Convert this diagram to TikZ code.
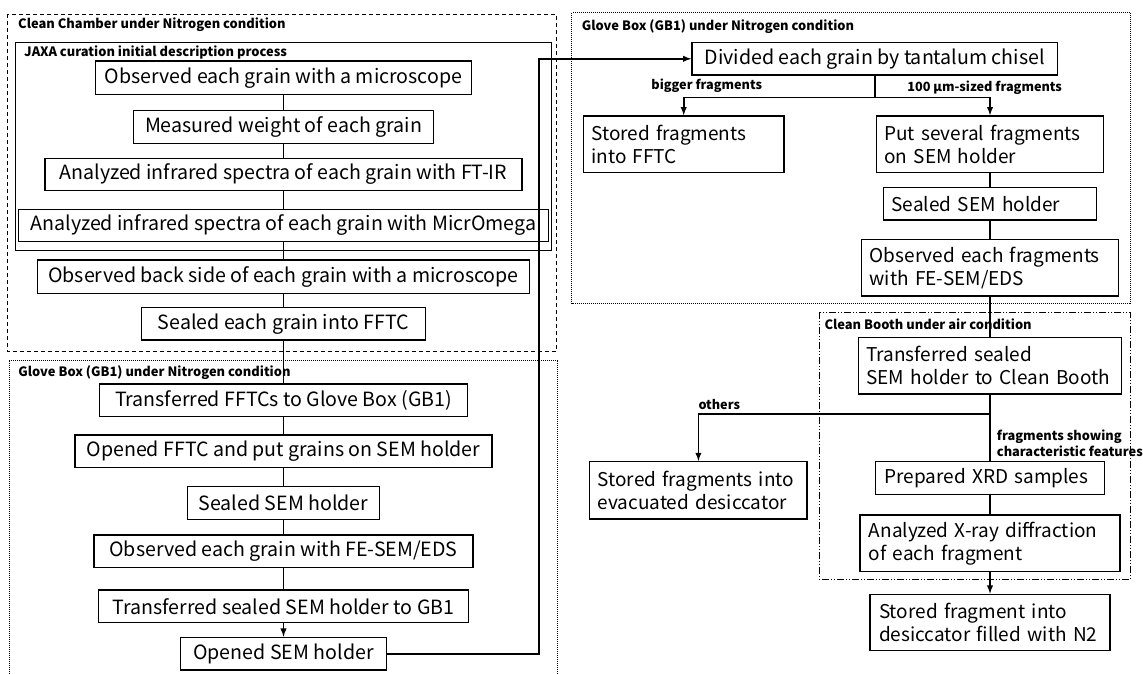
\documentclass[tikz,border=0pt]{standalone}
\usepackage{fontspec}
\setmainfont{Noto Sans CJK JP}
\tikzset{
  stepbox/.style={draw, line width=1.4pt, inner sep=0pt, font=\fontsize{19.6}{23.5}\selectfont},
  sz/.style 2 args={minimum width=#1pt, minimum height=#2pt},
  leftbox/.style={stepbox, align=left, text width=#1pt, font=\fontsize{19}{23}\selectfont},
  zonetitle/.style={anchor=west, inner sep=0pt, font=\bfseries\fontsize{12.9}{14}\selectfont},
  branchlabel/.style={inner sep=0pt, font=\bfseries\fontsize{12.7}{16}\selectfont},
  link/.style={line width=1.8pt},
  arr/.style={line width=1.8pt, -latex},
}
\begin{document}
\begin{tikzpicture}[x=1pt, y=-1pt]
                \useasboundingbox (0,0) rectangle (1143,673);
                % zones
                \draw [line width=0.9pt, dash pattern=on 4pt off 3pt] (7.3,14) rectangle (556,351.7);
                \draw [line width=0.9pt] (15,42.7) rectangle (551,250);
                \draw [line width=0.8pt, dash pattern=on 1pt off 1pt] (9,360.7) rectangle (557.3,690);
                \draw [line width=0.8pt, dash pattern=on 1pt off 1pt] (571.7,12.7) rectangle (1130,303.3);
                \draw [line width=0.9pt, dash pattern=on 7pt off 2pt on 1pt off 2pt on 1pt off 2pt] (819.3,312) rectangle (1130.5,579.3);
                \node [zonetitle] (tChamber) at (18,25) {Clean Chamber under Nitrogen condition};
                \node [zonetitle] (tJaxa) at (24,52) {JAXA curation initial description process};
                \node [zonetitle] (tGloveL) at (18.2,372.7) {Glove Box (GB1) under Nitrogen condition};
                \node [zonetitle] (tGloveR) at (581.7,26.7) {Glove Box (GB1) under Nitrogen condition};
                \node [zonetitle] (tBooth) at (824.3,324) {Clean Booth under air condition};
                % JAXA curation and clean chamber
                \node [stepbox, sz={376.3}{33.3}] (obsMicro) at (283.5,77.7) {Observed each grain with a microscope};
                \node [stepbox, sz={300.5}{32.6}] (weigh) at (283.5,127) {Measured weight of each grain};
                \node [stepbox, sz={476.8}{32.4}] (ftir) at (283.5,174.5) {Analyzed infrared spectra of each grain with FT-IR};
                \node [stepbox, sz={529.8}{32.4}] (micrOmega) at (283.5,225.5) {Analyzed infrared spectra of each grain with MicrOmega};
                \node [stepbox, sz={491.6}{33.3}] (backSide) at (283.5,276.7) {Observed back side of each grain with a microscope};
                \node [stepbox, sz={284.3}{32.7}] (sealFFTC) at (283.5,323.7) {Sealed each grain into FFTC};
                % glove box, left
                \node [stepbox, sz={368.3}{32.7}] (transFFTC) at (283.5,400.3) {Transferred FFTCs to Glove Box (GB1)};
                \node [stepbox, sz={417.2}{32.7}] (openFFTC) at (283.5,451.3) {Opened FFTC and put grains on SEM holder};
                \node [stepbox, sz={191.5}{32.6}] (sealSEM) at (283.5,503) {Sealed SEM holder};
                \node [stepbox, sz={379.2}{32.7}] (obsGrain) at (283.5,551.3) {Observed each grain with FE-SEM/EDS};
                \node [stepbox, sz={369.8}{32.7}] (transGB1) at (283.5,606.3) {Transferred sealed SEM holder to GB1};
                \node [stepbox, sz={205.5}{32.7}] (openSEM) at (283.5,653.7) {Opened SEM holder};
                % glove box, right
                \node [stepbox, sz={365.4}{32.3}] (divide) at (874.7,58.8) {Divided each grain by tantalum chisel};
                \node [leftbox=184.6, sz={200.6}{56.7}] (storeFFTC) at (683.7,144.3) {Stored fragments\\into FFTC};
                \node [leftbox=211.5, sz={227.5}{56.7}] (putSEM) at (990,144.3) {Put several fragments\\on SEM holder};
                \node [leftbox=197, sz={213}{32.3}] (sealSEMr) at (990,203.8) {Sealed SEM holder};
                \node [leftbox=240.5, sz={256.5}{56.7}] (obsFrag) at (990,267.7) {Observed each fragments\\with FE-SEM/EDS};
                % clean booth
                \node [leftbox=247.4, sz={263.4}{56.7}] (transBooth) at (990,365.7) {Transferred sealed\\SEM holder to Clean Booth};
                \node [leftbox=201.5, sz={217.5}{57.3}] (storeDesic) at (698.4,490.3) {Stored fragments into\\evacuated desiccator};
                \node [leftbox=211, sz={229}{32.6}] (prepXRD) at (990,478) {Prepared XRD samples};
                \node [leftbox=242.2, sz={260.2}{56.7}] (xrd) at (990,543.3) {Analyzed X-ray diffraction\\of each fragment};
                \node [leftbox=221.7, sz={239.7}{56.4}] (storeN2) at (990,622.5) {Stored fragment into\\desiccator filled with N2};
                % connectors, left column
                \draw [link] (obsMicro) -- (weigh);
                \draw [link] (weigh) -- (ftir);
                \draw [link] (ftir) -- (micrOmega);
                \draw [link] (micrOmega) -- (backSide);
                \draw [link] (backSide) -- (sealFFTC);
                \draw [link] (sealFFTC) -- (transFFTC);
                \draw [link] (transFFTC) -- (openFFTC);
                \draw [link] (openFFTC) -- (sealSEM);
                \draw [link] (sealSEM) -- (obsGrain);
                \draw [link] (obsGrain) -- (transGB1);
                \draw [arr] (transGB1) -- (openSEM);
                \coordinate (turn) at (539.3,0);
                \draw [arr] (openSEM.east) -| (turn |- divide.west) -- (divide.west);
                % connectors, right column
                \draw [link] (divide.south) -- ++(0,21.9) coordinate (splitA);
                \draw [arr] (splitA) -| (storeFFTC.north);
                \draw [arr] (splitA) -| (putSEM.north);
                \node [branchlabel] (lBigger) at (706.7,86) {bigger fragments};
                \node [branchlabel] (lSmall) at (984.6,88) {100 µm-sized fragments};
                \draw [link] (putSEM) -- (sealSEMr);
                \draw [link] (sealSEMr) -- (obsFrag);
                \draw [link] (obsFrag) -- (transBooth);
                \draw [link] (transBooth.south) -- ++(0,19.3) coordinate (splitB);
                \draw [arr] (splitB) -| (storeDesic.north);
                \draw [link] (splitB) -- (prepXRD.north);
                \node [branchlabel, anchor=south west] (lOthers) at (698.3,410) {others};
                \node [branchlabel, anchor=west, align=left, font=\bfseries\fontsize{12.8}{16}\selectfont] (lFeatures) at (996.7,443.7) {fragments showing\\characteristic features};
                \draw [link] (prepXRD) -- (xrd);
                \draw [arr] (xrd) -- (storeN2);
\end{tikzpicture}
\end{document}
